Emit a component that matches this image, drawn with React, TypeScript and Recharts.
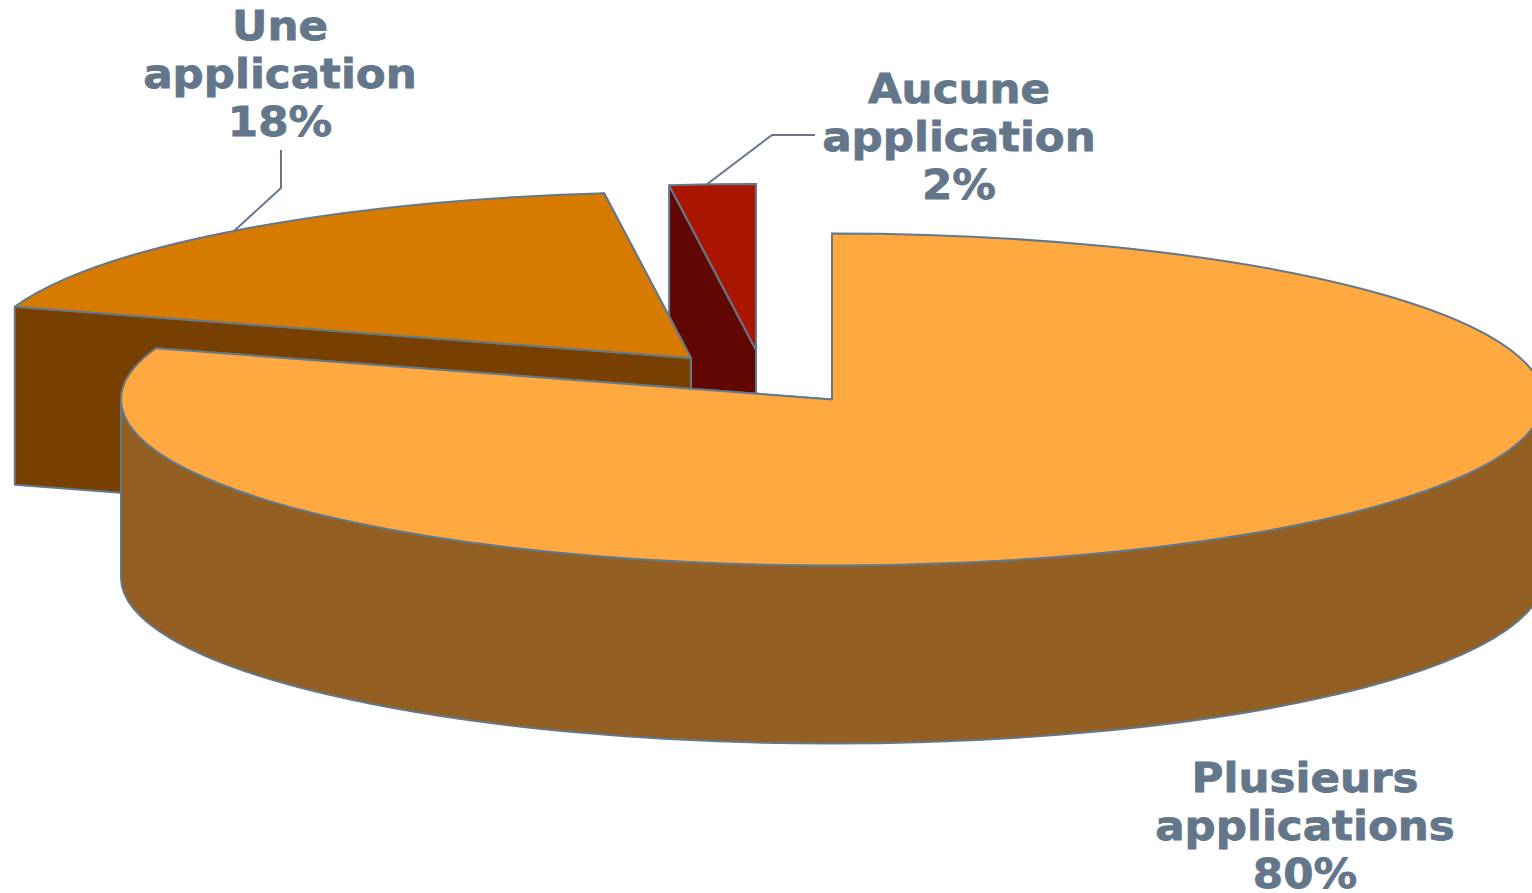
import React from "react";
import { PieChart, Pie } from "recharts";

const categories = ["Aucune application", "Une application", "Plusieurs applications"];
const shares = [1.95, 18.05, 80];

const topColors = ["#AA1500", "#D67A00", "#FFA940"];
const sideColors = ["#5F0700", "#773F00", "#935F22"];
const explodeX = [-76, -141, 0];
const explodeY = [-49.5, -41.5, 0];
const labelX = [959, 280, 1305];
const labelY = [103, 40, 792];
const leaders = [
  "M815 135 L772 135 L706 185",
  "M281 150 L281 188 L233 232",
  "",
];

const LINE = "#64788C";
const TEXT = "#64768A";
const TILT = 166 / 711;
const DEPTH = 178;
const rad = (d: number) => (d * Math.PI) / 180;

function Slice3D(props: any) {
  const { cx, cy, outerRadius, startAngle, endAngle, index } = props;
  const ox = cx + explodeX[index];
  const oy = cy + explodeY[index];
  const rx = outerRadius;
  const ry = outerRadius * TILT;
  const px = (a: number) => ox + rx * Math.cos(rad(a));
  const py = (a: number) => oy - ry * Math.sin(rad(a));
  const large = endAngle - startAngle > 180 ? 1 : 0;
  const top = `M${ox} ${oy} L${px(startAngle)} ${py(startAngle)} A${rx} ${ry} 0 ${large} 0 ${px(endAngle)} ${py(endAngle)} Z`;
  const face = (a: number) =>
    `M${ox} ${oy} L${px(a)} ${py(a)} L${px(a)} ${py(a) + DEPTH} L${ox} ${oy + DEPTH} Z`;
  const rimFrom = Math.max(startAngle, 180);
  const rimTo = Math.min(endAngle, 360);
  const rim =
    rimTo > rimFrom
      ? `M${px(rimFrom)} ${py(rimFrom)} A${rx} ${ry} 0 0 0 ${px(rimTo)} ${py(rimTo)} L${px(rimTo)} ${py(rimTo) + DEPTH} A${rx} ${ry} 0 0 1 ${px(rimFrom)} ${py(rimFrom) + DEPTH} Z`
      : "";
  const common = { stroke: LINE, strokeWidth: 2, strokeLinejoin: "round" as const };
  return (
    <g>
      <path d={face(startAngle)} fill={sideColors[index]} {...common} />
      <path d={face(endAngle)} fill={sideColors[index]} {...common} />
      {rim && <path d={rim} fill={sideColors[index]} {...common} />}
      <path d={top} fill={topColors[index]} {...common} />
    </g>
  );
}

function SliceLabel(props: any) {
  const { index, percent } = props;
  const words = categories[index].split(" ");
  const lines = [...words, `${Math.round(percent * 100)}%`];
  return (
    <g>
      {leaders[index] && <path d={leaders[index]} fill="none" stroke={LINE} strokeWidth={2} />}
      <text
        transform={`translate(${labelX[index]} 0) scale(1.09 1)`}
        textAnchor="middle"
        fill={TEXT}
        stroke={TEXT}
        strokeWidth={0.8}
        fontFamily="'DejaVu Sans', sans-serif"
        fontWeight="bold"
        fontSize={40}
      >
        {lines.map((line, i) => (
          <tspan key={i} x={0} y={labelY[index] + i * 48}>
            {line}
          </tspan>
        ))}
      </text>
    </g>
  );
}

const chartData = categories.map((name, i) => ({ name, value: shares[i] }));

export default function App() {
  return (
    <div style={{ position: "absolute", left: 0, top: 0, width: 1532, height: 893, background: "#fff" }}>
      <PieChart width={1532} height={893} margin={{ top: 0, right: 0, bottom: 0, left: 0 }}>
        <Pie
          data={chartData}
          dataKey="value"
          nameKey="name"
          cx={832}
          cy={399.5}
          innerRadius={0}
          outerRadius={711}
          startAngle={90}
          endAngle={450}
          stroke={LINE}
          isAnimationActive={false}
          shape={Slice3D}
          label={SliceLabel}
          labelLine={false}
        />
      </PieChart>
    </div>
  );
}
